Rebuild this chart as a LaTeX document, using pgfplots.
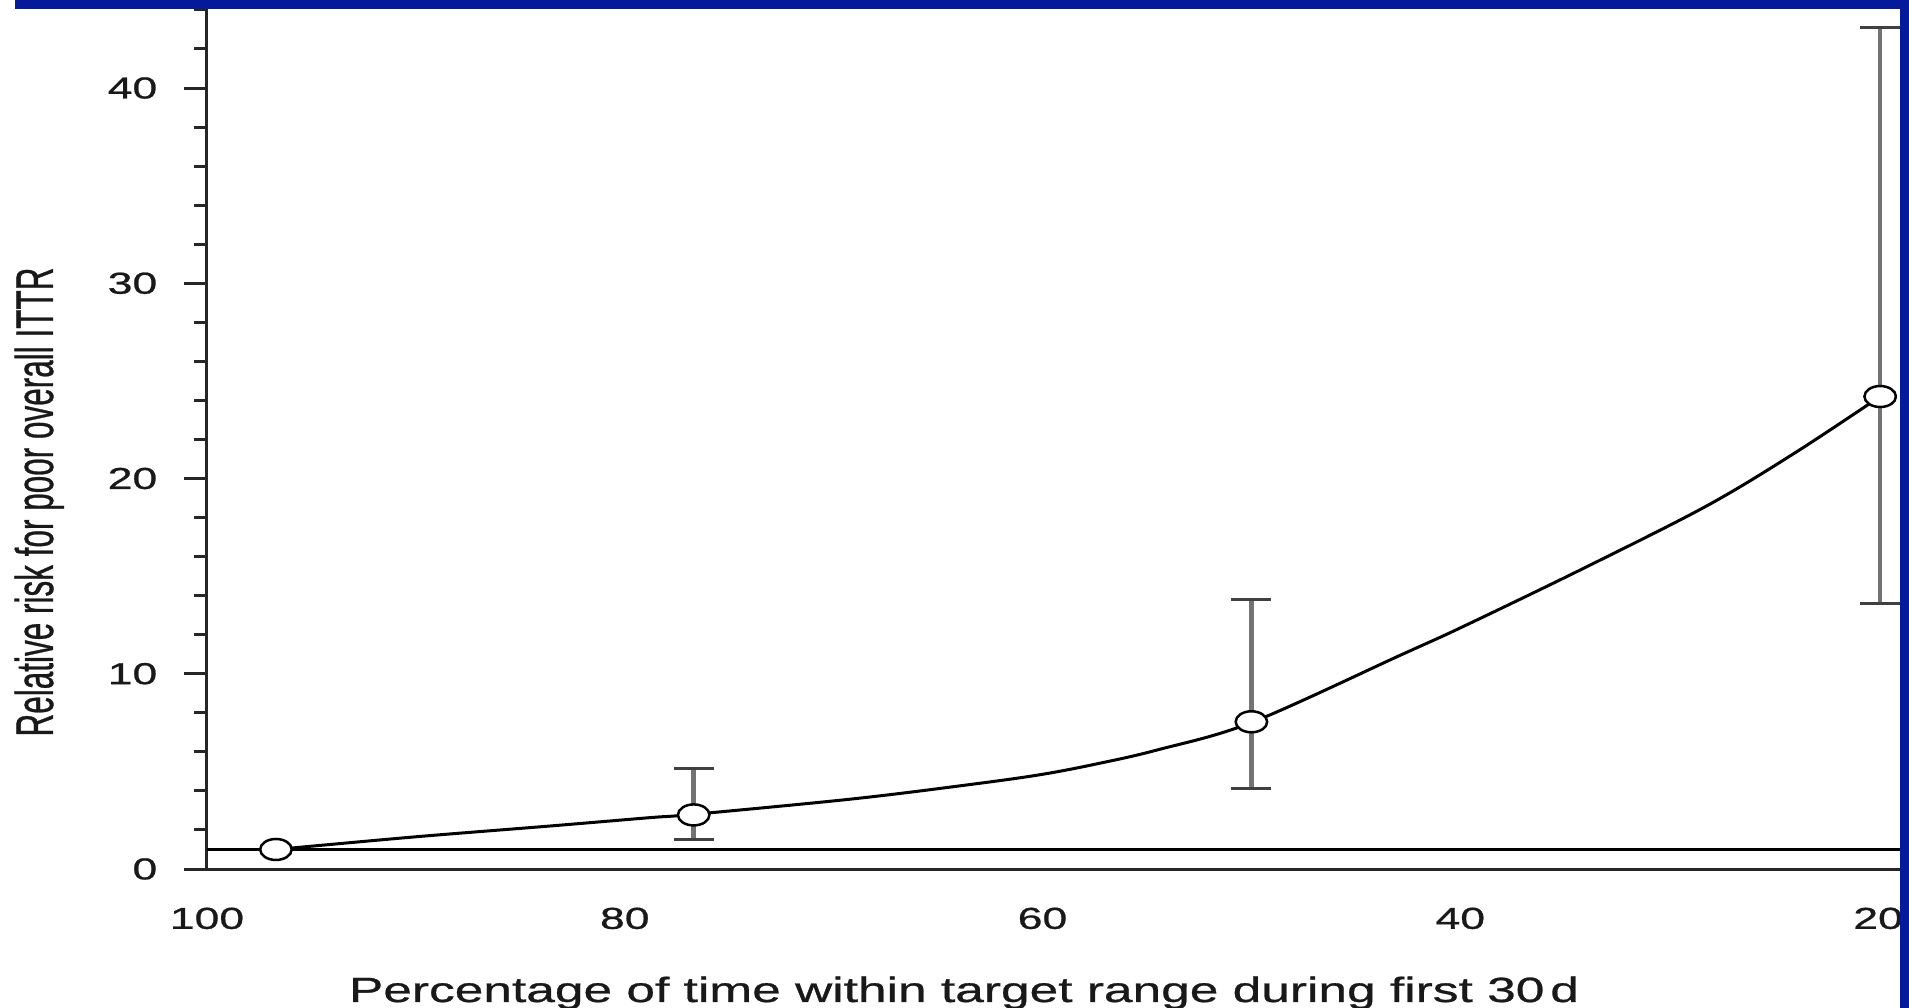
\documentclass[border=0pt]{standalone}
\usepackage{pgfplots}
\pgfplotsset{compat=1.18}
\usepackage{fontspec}
\setmainfont{Liberation Sans}
\newfontfamily\widefont[FakeStretch=1.47,FakeBold=0.8]{Liberation Sans}
\newfontfamily\ylabfont[FakeBold=0.8]{Liberation Sans}
\definecolor{slideblue}{RGB}{5,25,155}
\begin{document}
\begin{tikzpicture}
\path[use as bounding box] (0,0) rectangle (19.09cm,10.08cm);
\begin{axis}[
  at={(2.07cm,1.39cm)}, anchor=south west,
  scale only axis, width=16.93cm, height=8.60cm,
  x dir=reverse,
  xmin=18.95, xmax=100, ymin=0, ymax=44.05,
  axis x line*=bottom, axis y line*=left,
  axis line style={line width=0.3mm, black!85},
  every tick/.style={line width=0.3mm, black!85},
  tick align=outside,
  major tick length=2.3mm, minor tick length=1.3mm,
  xtick={20,40,60,80,100},
  minor xtick={20,40,60,80,100},
  xtick style={draw=none},
  ytick={0,10,20,30,40},
  minor ytick={2,4,6,8,12,14,16,18,22,24,26,28,32,34,36,38,42,44},
  /pgf/number format/assume math mode=true,
  ticklabel style={font=\widefont\fontsize{8.62}{10}\selectfont, text=black!90},
  yticklabel style={anchor=east, inner sep=0pt, xshift=-2.6mm},
  xticklabel style={anchor=north, inner sep=0pt, yshift=-1.5mm},
  clip mode=individual,
]
\addplot[black, line width=0.25mm] coordinates {(100,1) (18.95,1)};
\addplot[only marks, mark=none,
  error bars/.cd, y dir=both, y explicit,
  error bar style={line width=0.45mm, black!55},
  error mark options={rotate=90, line width=0.3mm, black!75, mark size=2mm}]
  coordinates {
  (76.7,2.77) += (0,2.40) -= (0,1.28)
  (50.0,7.54) += (0,6.26) -= (0,3.44)
  (19.9,24.2) += (0,18.9) -= (0,10.6)
  };
\addplot[black, line width=0.3mm, smooth, tension=0.55] coordinates {
  (96.7,1.0) (90,1.65) (83.6,2.2) (78.8,2.63) (76.7,2.8) (69,3.6)
  (63.3,4.35) (60,4.85) (57.2,5.43) (54.5,6.1) (50,7.5) (42.85,10.96)
  (39.9,12.4) (34.1,15.4) (28.2,18.6) (24,21.3) (19.9,24.2)
  };
\addplot[only marks, mark=*, mark size=1.05mm,
  mark options={xscale=1.5, fill=white, draw=black, line width=0.25mm}]
  coordinates {(96.7,1.0) (76.7,2.77) (50.0,7.54) (19.9,24.2)};
\end{axis}
\node[anchor=base, font=\widefont\fontsize{9.96}{12}\selectfont, text=black!90]
  at (9.64cm,0.6mm) {Percentage of time within target range during first 30\,d};
\node[rotate=90, anchor=base, font=\ylabfont\fontsize{8.96}{11}\selectfont, text=black!90]
  at (5.3mm,50.6mm) {\scalebox{1}[1.68]{Relative risk for poor overall ITTR}};
\fill[slideblue] (1.5mm,99.9mm) rectangle (19.09cm,10.08cm);
\fill[slideblue] (19.00cm,0) rectangle (19.09cm,10.08cm);
\end{tikzpicture}
\end{document}
